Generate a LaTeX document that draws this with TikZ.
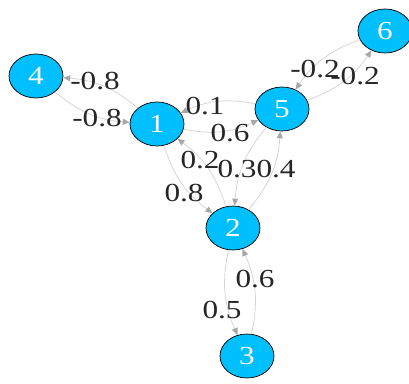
\documentclass[tikz,border=0pt]{standalone}
\usepackage{fontspec}
\setmainfont{Liberation Serif}
\usepackage{tikz}
\usetikzlibrary{shapes.geometric, arrows.meta}
\usepackage{graphicx}
\definecolor{vfill}{HTML}{00BFFF}
\definecolor{efill}{gray}{0.84}
\definecolor{afill}{gray}{0.66}
\newcommand{\widetxt}[1]{\scalebox{1.2}[1]{#1}}

\begin{document}
\begin{tikzpicture}[
        x=1pt, y=1pt,
        vertex/.style={ellipse, draw=black, fill=vfill, line width=0.7pt, inner sep=0pt, minimum width=54pt, minimum height=44pt, text=white, font=\fontsize{26}{26}\selectfont},
        link/.style={draw=efill, line width=0.8pt, -{Triangle[length=7pt, width=6pt, color=afill]}, bend right=18},
        wt/.style={text=black!85, inner sep=0pt, font=\fontsize{26}{26}\selectfont}
    ]
        \useasboundingbox (0,0) rectangle (409,383);

        % VERTICES
        \node[vertex] (n1) at (157,259) {\widetxt{1}};
        \node[vertex] (n2) at (233,155) {\widetxt{2}};
        \node[vertex] (n3) at (247,27) {\widetxt{3}};
        \node[vertex] (n4) at (36,307) {\widetxt{4}};
        \node[vertex] (n5) at (282,274) {\widetxt{5}};
        \node[vertex] (n6) at (385,352) {\widetxt{6}};

        % EDGES (each pair bends to its own right side)
        \draw[link] (n1) to (n4);
        \draw[link] (n4) to (n1);
        \draw[link] (n5) to (n1);
        \draw[link] (n1) to (n5);
        \draw[link] (n2) to (n1);
        \draw[link] (n1) to (n2);
        \draw[link] (n5) to (n2);
        \draw[link] (n2) to (n5);
        \draw[link] (n3) to (n2);
        \draw[link] (n2) to (n3);
        \draw[link] (n6) to (n5);
        \draw[link] (n5) to (n6);

        % WEIGHTS
        \node[wt] (w14) at (95,302) {\widetxt{-0.8}};
        \node[wt] (w41) at (97,265) {\widetxt{-0.8}};
        \node[wt] (w51) at (205,277) {\widetxt{0.1}};
        \node[wt] (w15) at (230,250) {\widetxt{0.6}};
        \node[wt] (w21) at (200,223) {\widetxt{0.2}};
        \node[wt] (w12) at (184,190) {\widetxt{0.8}};
        \node[wt] (w52) at (237,214) {\widetxt{0.3}};
        \node[wt] (w25) at (276,214) {\widetxt{0.4}};
        \node[wt] (w32) at (255,104) {\widetxt{0.6}};
        \node[wt] (w23) at (222,73) {\widetxt{0.5}};
        \node[wt] (w65) at (315,314) {\widetxt{-0.2}};
        \node[wt] (w56) at (355,307) {\widetxt{-0.2}};
    \end{tikzpicture}
\end{document}
